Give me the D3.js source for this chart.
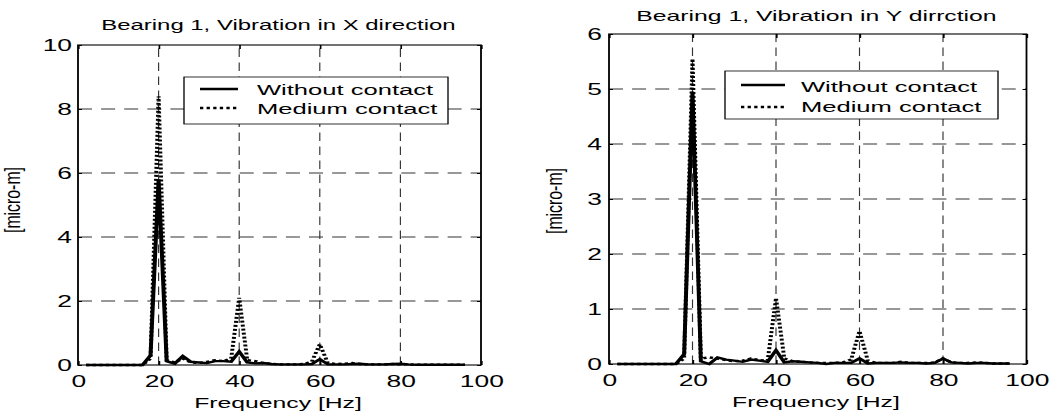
<!DOCTYPE html>
<html><head><meta charset="utf-8">
<script src="https://cdn.jsdelivr.net/npm/d3@7"></script>
<style>
html,body{margin:0;padding:0;background:#fff;}
svg{display:block;}
text{font-family:"Liberation Sans",Arial,Helvetica,sans-serif;fill:#000;}
</style></head>
<body>
<svg id="chart" width="1063" height="419"></svg>
<script>
// ---- data ----
const freq = [2,4,6,8,10,12,14,16,18,20,22,24,26,28,30,32,34,36,38,40,42,44,46,48,50,52,54,56,58,60,62,64,66,68,70,72,74,76,78,80,82,84,86,88,90,92,94,96];
const xWithout = [0,0,0,0,0,0,0,0,0.3,5.8,0.12,0.04,0.28,0.1,0.08,0.06,0.12,0.12,0.1,0.42,0.08,0.05,0.06,0.03,0.02,0.02,0.02,0.02,0.03,0.18,0.02,0.02,0.02,0.03,0.04,0.02,0.02,0.02,0.03,0.04,0.02,0.01,0.01,0.01,0.01,0.01,0.01,0.01];
const xMedium  = [0,0,0,0,0,0,0,0,0.2,8.4,0.15,0.08,0.2,0.08,0.06,0.1,0.15,0.12,0.2,2.1,0.15,0.12,0.06,0.04,0.02,0.02,0.02,0.03,0.1,0.65,0.06,0.03,0.04,0.06,0.03,0.02,0.02,0.02,0.03,0.02,0.02,0.01,0.01,0.01,0.01,0.01,0.01,0.01];
const yWithout = [0,0,0,0,0,0,0,0,0.18,4.95,0.05,0,0.12,0.08,0.06,0.04,0.08,0.06,0.04,0.25,0.03,0.05,0.04,0.03,0.02,0,0.02,0.02,0.02,0.1,0.01,0.02,0.02,0.02,0.03,0.02,0.02,0.01,0.02,0.1,0.03,0.02,0.01,0.02,0.02,0.01,0.01,0.01];
const yMedium  = [0,0,0,0,0,0,0,0,0.1,5.55,0.1,0.12,0.1,0.07,0.05,0.06,0.1,0.07,0.06,1.2,0.1,0.05,0.04,0.03,0.02,0.02,0.02,0.03,0.08,0.6,0.06,0.02,0.02,0.02,0.04,0.02,0.02,0.02,0.03,0.1,0.03,0.02,0.02,0.03,0.02,0.01,0.01,0.01];
const xTicks = [0,20,40,60,80,100];
const yTicksX = [0,2,4,6,8,10];
const yTicksY = [0,1,2,3,4,5,6];
const legendLabels = ["Without contact","Medium contact"];
const titleX = "Bearing 1, Vibration in X direction";
const titleY = "Bearing 1, Vibration in Y dirrction";
const xLabel = "Frequency [Hz]";
const yLabel = "[micro-m]";

// ---- layout ----
const S = 1.65; // horizontal stretch of the whole picture
const panels = [
  {left:78, right:481, top:45, bottom:365, ymax:10, yticks:yTicksX, solid:xWithout, dotted:xMedium,
   title:titleX, tx:278.5, ty:30.5, tsize:14.5, ypad:6, xlabX:278, xlabY:408, ylabX:20, ylabY:200,
   leg:{x0:184,x1:448,y0:77,y1:124,l0:200,l1:238,ly:[89,108],txt:257,tyy:[95,114.5]}},
  {left:609, right:1026.5, top:34, bottom:364, ymax:6, yticks:yTicksY, solid:yWithout, dotted:yMedium,
   title:titleY, tx:816.5, ty:20.7, tsize:15, ypad:7, xlabX:816, xlabY:407.5, ylabX:562, ylabY:201,
   leg:{x0:725,x1:998,y0:71,y1:119,l0:741,l1:785,ly:[85,107],txt:801,tyy:[91.7,112.3]}}
];

const svg = d3.select("#chart");
const root = svg.append("g").attr("transform", `scale(${S},1)`);

panels.forEach(p => {
  const x = d3.scaleLinear().domain([0,100]).range([p.left/S, p.right/S]);
  const y = d3.scaleLinear().domain([0,p.ymax]).range([p.bottom, p.top]);
  const g = root.append("g");

  // grid
  const dash = "8.5,5.5";
  g.append("g").selectAll("line").data(xTicks.filter(t => t>0 && t<100)).join("line")
    .attr("x1", d=>x(d)).attr("x2", d=>x(d)).attr("y1", y(0)).attr("y2", y(p.ymax))
    .attr("stroke","#333").attr("stroke-width",0.7).attr("stroke-dasharray",dash);
  g.append("g").selectAll("line").data(p.yticks.filter(t => t>0 && t<p.ymax)).join("line")
    .attr("x1", x(0)).attr("x2", x(100)).attr("y1", d=>y(d)).attr("y2", d=>y(d))
    .attr("stroke","#333").attr("stroke-width",1).attr("stroke-dasharray",dash);

  // axes
  const fmt = d3.format("d");
  const styleAxis = a => { a.select(".domain").remove(); a.selectAll("text").attr("font-size",16).attr("font-family",'"Liberation Sans",Arial,sans-serif').attr("fill","#000"); a.selectAll("line").attr("stroke","#000"); };
  g.append("g").attr("transform",`translate(0,${y(0)})`)
    .call(d3.axisBottom(x).tickValues(xTicks).tickFormat(fmt).tickSizeInner(-4).tickSizeOuter(0).tickPadding(11)).call(styleAxis);
  g.append("g").attr("transform",`translate(0,${y(p.ymax)})`)
    .call(d3.axisTop(x).tickValues(xTicks).tickSizeInner(-4).tickSizeOuter(0).tickFormat("")).call(styleAxis);
  g.append("g").attr("transform",`translate(${x(0)},0)`)
    .call(d3.axisLeft(y).tickValues(p.yticks).tickFormat(fmt).tickSizeInner(-4/S).tickSizeOuter(0).tickPadding(p.ypad/S)).call(styleAxis);
  g.append("g").attr("transform",`translate(${x(100)},0)`)
    .call(d3.axisRight(y).tickValues(p.yticks).tickSizeInner(-4/S).tickSizeOuter(0).tickFormat("")).call(styleAxis);

  // lines
  const line = d3.line().x((d,i)=>x(freq[i])).y(d=>y(d));
  g.append("path").datum(p.solid).attr("d", line).attr("fill","none").attr("stroke","#000").attr("stroke-width",2.4);
  g.append("path").datum(p.dotted).attr("d", line).attr("fill","none").attr("stroke","#000").attr("stroke-width",2.4).attr("stroke-dasharray","2,2");

  // box
  g.append("rect").attr("x",x(0)).attr("y",y(p.ymax)).attr("width",x(100)-x(0)).attr("height",y(0)-y(p.ymax))
    .attr("fill","none").attr("stroke","#000").attr("stroke-width",1.1);

  // title
  g.append("text").attr("x",p.tx/S).attr("y",p.ty).attr("text-anchor","middle").attr("font-size",p.tsize).text(p.title);
  // x label
  g.append("text").attr("x",p.xlabX/S).attr("y",p.xlabY).attr("text-anchor","middle").attr("font-size",15).text(xLabel);
  // y label
  g.append("text").attr("transform",`translate(${p.ylabX/S},${p.ylabY}) rotate(-90)`).attr("text-anchor","middle")
    .attr("font-size",13).attr("textLength",66).attr("lengthAdjust","spacingAndGlyphs").text(yLabel);

  // legend
  const L = p.leg;
  g.append("rect").attr("x",L.x0/S).attr("y",L.y0).attr("width",(L.x1-L.x0)/S).attr("height",L.y1-L.y0)
    .attr("fill","#fff").attr("stroke","#000").attr("stroke-width",0.8);
  legendLabels.forEach((lab,i) => {
    g.append("line").attr("x1",L.l0/S).attr("x2",L.l1/S).attr("y1",L.ly[i]).attr("y2",L.ly[i])
      .attr("stroke","#000").attr("stroke-width",2.4).attr("stroke-dasharray", i===1 ? "2,2" : null);
    g.append("text").attr("x",L.txt/S).attr("y",L.tyy[i]).attr("font-size",15.5).text(lab);
  });
});
// bottom edge of the picture is cropped in the reference
svg.append("rect").attr("x",0).attr("y",411).attr("width",1063).attr("height",8).attr("fill","#fff");
</script>
</body></html>
